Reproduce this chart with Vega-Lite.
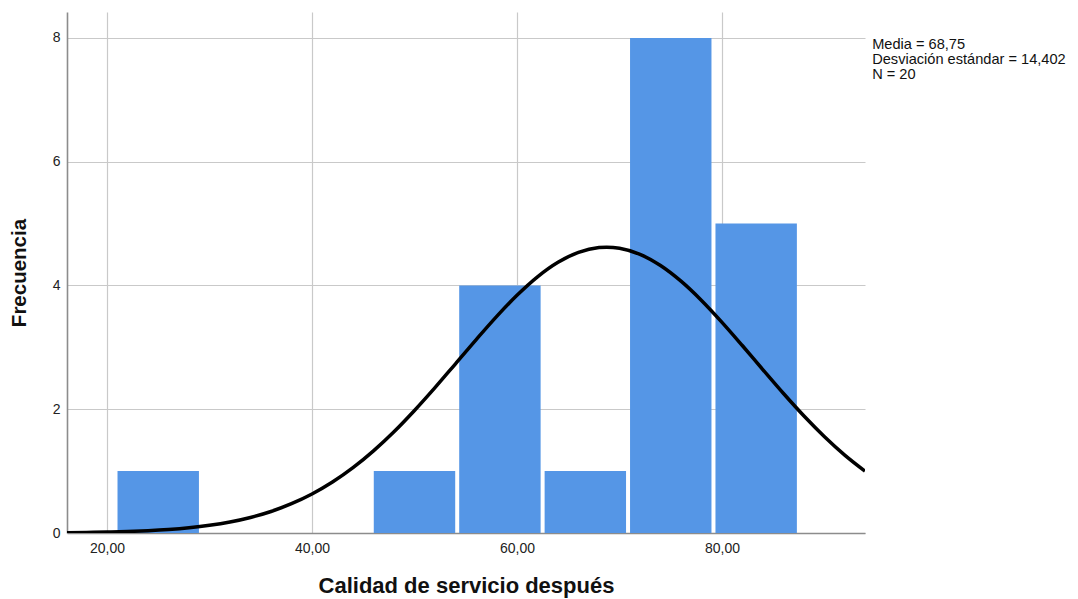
{
  "$schema": "https://vega.github.io/schema/vega-lite/v6.json",
  "width": 798,
  "height": 521,
  "autosize": {"type": "none"},
  "padding": {"left": 67, "top": 12, "right": 213, "bottom": 66},
  "background": "white",
  "config": {
    "view": {"stroke": null},
    "font": "Liberation Sans",
    "axis": {
      "grid": true,
      "gridColor": "#c9c9c9",
      "gridWidth": 1.2,
      "domainColor": "#8c8c8c",
      "domainWidth": 1.6,
      "ticks": false,
      "labelFont": "Liberation Sans",
      "labelFontSize": 14,
      "labelColor": "#222222",
      "titleFont": "Liberation Sans",
      "titleFontWeight": "bold",
      "titleColor": "#111111"
    }
  },
  "datasets": {
    "barras": [
      {"inicio": 20.833, "fin": 29.167, "frecuencia": 1},
      {"inicio": 45.833, "fin": 54.167, "frecuencia": 1},
      {"inicio": 54.167, "fin": 62.5, "frecuencia": 4},
      {"inicio": 62.5, "fin": 70.833, "frecuencia": 1},
      {"inicio": 70.833, "fin": 79.167, "frecuencia": 8},
      {"inicio": 79.167, "fin": 87.5, "frecuencia": 5}
    ],
    "curva": [
      {"x": 16.1, "y": 0.0058},
      {"x": 18, "y": 0.0093},
      {"x": 20, "y": 0.0150},
      {"x": 22, "y": 0.0238},
      {"x": 24, "y": 0.0370},
      {"x": 26, "y": 0.0564},
      {"x": 28, "y": 0.0844},
      {"x": 30, "y": 0.1238},
      {"x": 32, "y": 0.178},
      {"x": 34, "y": 0.2514},
      {"x": 36, "y": 0.348},
      {"x": 38, "y": 0.473},
      {"x": 40, "y": 0.630},
      {"x": 42, "y": 0.823},
      {"x": 44, "y": 1.055},
      {"x": 46, "y": 1.327},
      {"x": 48, "y": 1.636},
      {"x": 50, "y": 1.980},
      {"x": 52, "y": 2.349},
      {"x": 54, "y": 2.735},
      {"x": 56, "y": 3.122},
      {"x": 58, "y": 3.497},
      {"x": 60, "y": 3.841},
      {"x": 62, "y": 4.140},
      {"x": 64, "y": 4.375},
      {"x": 66, "y": 4.536},
      {"x": 68, "y": 4.614},
      {"x": 68.75, "y": 4.620},
      {"x": 70, "y": 4.603},
      {"x": 72, "y": 4.504},
      {"x": 74, "y": 4.323},
      {"x": 76, "y": 4.070},
      {"x": 78, "y": 3.759},
      {"x": 80, "y": 3.405},
      {"x": 82, "y": 3.026},
      {"x": 84, "y": 2.638},
      {"x": 86, "y": 2.255},
      {"x": 88, "y": 1.891},
      {"x": 90, "y": 1.556},
      {"x": 92, "y": 1.255},
      {"x": 93.95, "y": 1.000}
    ],
    "resumen": [
      {"texto": ["Media = 68,75", "Desviación estándar = 14,402", "N = 20"]}
    ]
  },
  "layer": [
    {
      "data": {"name": "barras"},
      "mark": {"type": "bar", "color": "#5596e6", "xOffset": 2, "x2Offset": -2},
      "encoding": {
        "x": {
          "field": "inicio",
          "type": "quantitative",
          "scale": {"domain": [16.1, 93.95], "nice": false, "zero": false},
          "axis": {
            "title": "Calidad de servicio después",
            "titleFontSize": 22,
            "values": [20, 40, 60, 80],
            "labelExpr": "replace(format(datum.value, '.2f'), '.', ',')",
            "labelPadding": 8,
            "titlePadding": 20
          }
        },
        "x2": {"field": "fin"},
        "y": {
          "field": "frecuencia",
          "type": "quantitative",
          "scale": {"domain": [0, 8.42], "nice": false},
          "axis": {
            "title": "Frecuencia",
            "titleFontSize": 20.5,
            "values": [0, 2, 4, 6, 8],
            "format": "d",
            "labelPadding": 7,
            "titlePadding": 23
          }
        },
        "y2": {"datum": 0}
      }
    },
    {
      "data": {"name": "curva"},
      "mark": {"type": "line", "color": "#000000", "strokeWidth": 3.5, "interpolate": "monotone", "clip": true},
      "encoding": {
        "x": {"field": "x", "type": "quantitative"},
        "y": {"field": "y", "type": "quantitative"}
      }
    },
    {
      "data": {"name": "resumen"},
      "mark": {"type": "text", "align": "left", "baseline": "middle", "fontSize": 14.6, "lineHeight": 15, "color": "#111111", "font": "Liberation Sans", "clip": false},
      "encoding": {
        "x": {"datum": 94.65},
        "y": {"datum": 7.89},
        "text": {"field": "texto"}
      }
    }
  ]
}
